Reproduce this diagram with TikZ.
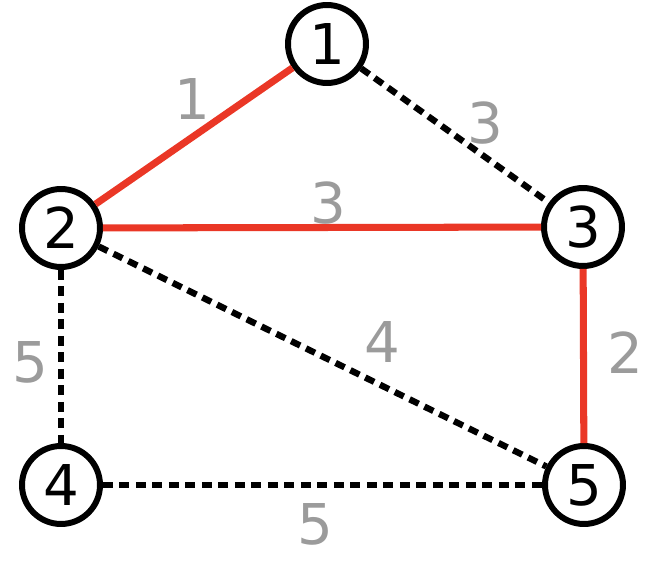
\documentclass[tikz,border=0pt]{standalone}
\usepackage{fontspec}
\setmainfont{DejaVu Sans}
\usetikzlibrary{positioning}

\definecolor{edgered}{RGB}{234,55,38}
\definecolor{lblgray}{RGB}{155,155,155}

\begin{document}
\begin{tikzpicture}[
  x=0.02cm, y=-0.02cm,
  vtx/.style={draw, circle, line width=3.4pt, minimum size=1.56cm, inner sep=0pt,
              font=\fontsize{32}{34}\selectfont},
  tree/.style={draw=edgered, line width=4pt},
  other/.style={draw=black, line width=3.6pt, dash pattern=on 0.2cm off 0.13cm},
  lbl/.style={text=lblgray, font=\fontsize{32}{34}\selectfont, inner sep=0pt}
]
  \useasboundingbox (0,0) rectangle (650,574);

  \node[vtx] (n1) at (327, 44)  {1};
  \node[vtx] (n2) at (61, 228)  {2};
  \node[vtx] (n3) at (583, 227) {3};
  \node[vtx] (n4) at (61, 485)  {4};
  \node[vtx] (n5) at (584, 485) {5};

  % minimum spanning tree edges
  \draw[tree] (n1) -- node[lbl, midway, shift={(-2,-37)}] {1} (n2);
  \draw[tree] (n2) -- node[lbl, midway, shift={(6,-24)}]  {3} (n3);
  \draw[tree] (n3) -- node[lbl, midway, shift={(42,-3)}]  {2} (n5);

  % remaining edges
  \draw[other] (n1) -- node[lbl, midway, shift={(30,-12)}] {3} (n3);
  \draw[other] (n2) -- node[lbl, midway, shift={(-31,6)}]  {5} (n4);
  \draw[other] (n2) -- node[lbl, midway, shift={(60,-14)}] {4} (n5);
  \draw[other] (n4) -- node[lbl, midway, shift={(-7,39)}]  {5} (n5);
\end{tikzpicture}
\end{document}
